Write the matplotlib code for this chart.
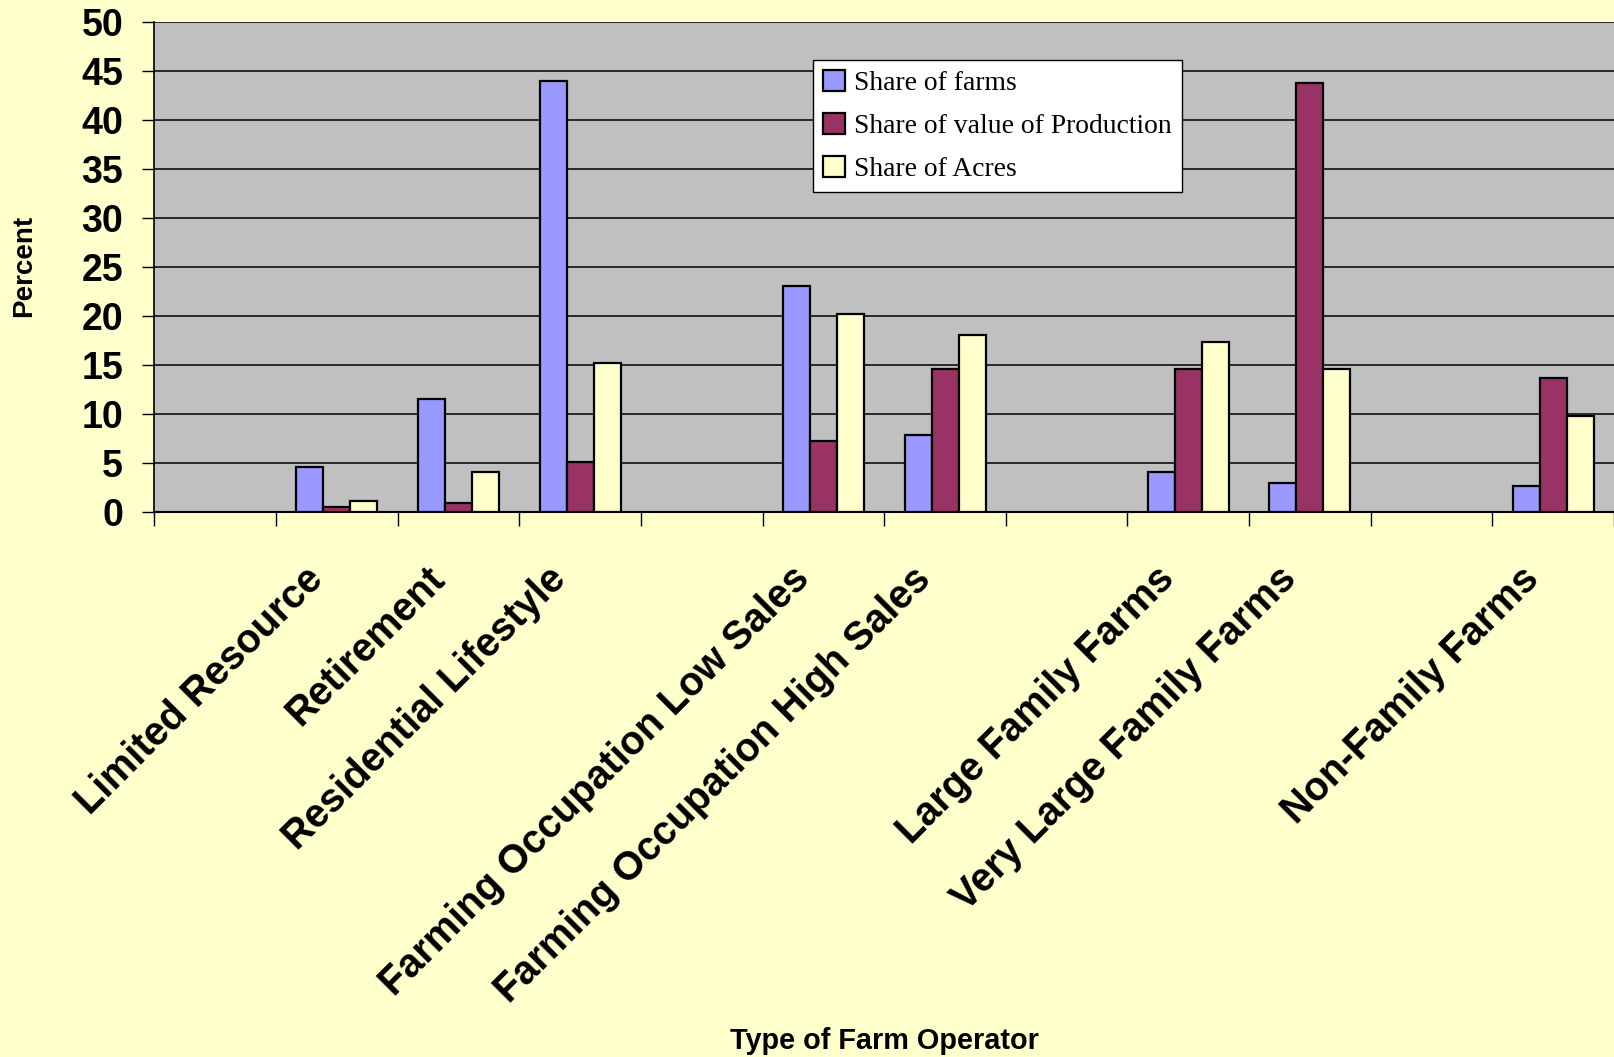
import numpy as np
import matplotlib.pyplot as plt
from matplotlib.transforms import ScaledTranslation

# category slots (blank slots are spacer groups in the original chart)
categories = ["", "Limited Resource", "Retirement", "Residential Lifestyle", "",
              "Farming Occupation Low Sales", "Farming Occupation High Sales", "",
              "Large Family Farms", "Very Large Family Farms", "", "Non-Family Farms"]
nan = np.nan
share_farms = [nan, 4.5, 11.5, 43.9, nan, 23.0, 7.8, nan, 4.0, 2.9, nan, 2.6]
share_value = [nan, 0.5, 0.85, 5.1, nan, 7.2, 14.5, nan, 14.6, 43.7, nan, 13.6]
share_acres = [nan, 1.1, 4.0, 15.2, nan, 20.2, 18.0, nan, 17.3, 14.5, nan, 9.8]
series_names = ["Share of farms", "Share of value of Production", "Share of Acres"]
colors = ["#9999FF", "#993366", "#FFFFCC"]

plt.rcParams["font.family"] = "Liberation Sans"

fig = plt.figure(figsize=(16.14, 10.57), dpi=100, facecolor="#FFFFCC")
ax = fig.add_axes([0.0957, 0.516, 0.9043, 0.4636])
ax.set_facecolor("#C0C0C0")

x = np.arange(len(categories))
w = 1 / 4.5
for k, (vals, name, col) in enumerate(zip([share_farms, share_value, share_acres], series_names, colors)):
    ax.bar(x + (k - 1) * w, vals, width=w, color=col, edgecolor="black",
           linewidth=1.6, label=name, zorder=3)

ax.set_xlim(-0.5, len(categories) - 0.5)
ax.set_ylim(0, 50)
ax.set_yticks(np.arange(0, 51, 5))
ax.yaxis.grid(True, color="black", linewidth=1.1, zorder=0)
ax.set_axisbelow(True)

for s in ["top", "right"]:
    ax.spines[s].set_visible(False)
ax.spines["left"].set_linewidth(1.2)
ax.spines["bottom"].set_linewidth(1.5)

ax.tick_params(axis="y", labelsize=27, length=8.6, width=1, pad=14)
for t in ax.get_yticklabels():
    t.set_fontweight("bold")

ax.set_xticks(x)
ax.set_xticklabels(categories, rotation=45, ha="right", va="center",
                   rotation_mode="anchor", fontsize=28.5, fontweight="bold")
ax.tick_params(axis="x", which="major", length=0, pad=42)
shift = ScaledTranslation(-20 / 100, -3 / 100, fig.dpi_scale_trans)
for t in ax.get_xticklabels():
    t.set_transform(t.get_transform() + shift)
ax.set_xticks(np.arange(-0.5, len(categories), 1), minor=True)
ax.tick_params(axis="x", which="minor", length=10, width=1)

fig.text(0.0149, 0.748, "Percent", fontsize=20, fontweight="bold",
         rotation=90, ha="center", va="center")
fig.text(0.548, 0.015, "Type of Farm Operator", fontsize=20.8, fontweight="bold",
         ha="center", va="center")

leg = ax.legend(loc="upper left", bbox_to_anchor=(0.451, 0.922), frameon=True,
                fancybox=False, edgecolor="black", framealpha=1,
                prop={"family": "Liberation Serif", "size": 19.9},
                handlelength=0.8, handleheight=0.8, handletextpad=0.3,
                labelspacing=0.6, borderpad=0.38, borderaxespad=0)
leg.get_frame().set_linewidth(1.0)

fig.savefig("out.png", dpi=100, facecolor=fig.get_facecolor())
